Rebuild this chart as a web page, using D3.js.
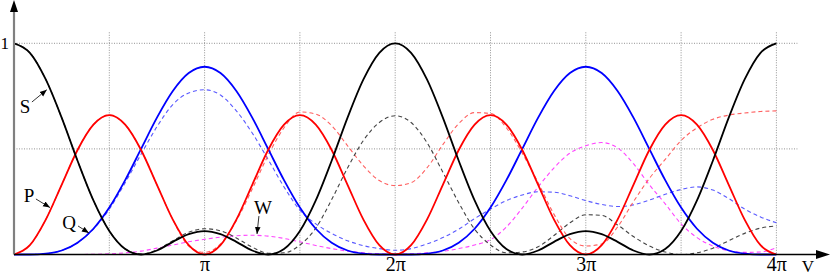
<!DOCTYPE html>
<html>
<head>
<meta charset="utf-8">
<script src="https://cdn.jsdelivr.net/npm/d3@7"></script>
<style>
  html, body { margin: 0; padding: 0; background: white; }
  svg { display: block; }
</style>
</head>
<body>
<script>
// samples every pi/12 from 0 to 4pi
const steps = d3.range(49).map(k => k / 12);   // in units of pi

const sSolid = [1, 0.955, 0.829, 0.648, 0.444, 0.256, 0.111, 0.026, 0, 0.019, 0.06, 0.096,
    0.111, 0.096, 0.06, 0.019, 0, 0.026, 0.111, 0.256, 0.444, 0.648, 0.829, 0.955,
    1, 0.955, 0.829, 0.648, 0.444, 0.256, 0.111, 0.026, 0, 0.019, 0.06, 0.096,
    0.111, 0.096, 0.06, 0.019, 0, 0.026, 0.111, 0.256, 0.444, 0.648, 0.829, 0.955, 1];
const pSolid = [0, 0.044, 0.165, 0.33, 0.495, 0.615, 0.66, 0.615, 0.495, 0.33, 0.165, 0.044,
    0, 0.044, 0.165, 0.33, 0.495, 0.615, 0.66, 0.615, 0.495, 0.33, 0.165, 0.044,
    0, 0.044, 0.165, 0.33, 0.495, 0.615, 0.66, 0.615, 0.495, 0.33, 0.165, 0.044,
    0, 0.044, 0.165, 0.33, 0.495, 0.615, 0.66, 0.615, 0.495, 0.33, 0.165, 0.044, 0];
const qSolid = [0, 0, 0.004, 0.019, 0.056, 0.122, 0.222, 0.352, 0.5, 0.648, 0.774, 0.859,
    0.889, 0.859, 0.774, 0.648, 0.5, 0.352, 0.222, 0.122, 0.056, 0.019, 0.004, 0,
    0, 0, 0.004, 0.019, 0.056, 0.122, 0.222, 0.352, 0.5, 0.648, 0.774, 0.859,
    0.889, 0.859, 0.774, 0.648, 0.5, 0.352, 0.222, 0.122, 0.056, 0.019, 0.004, 0, 0];

const sDash = [1, 0.955, 0.829, 0.648, 0.444, 0.256, 0.112, 0.027, 0.002, 0.022, 0.065, 0.105,
    0.122, 0.112, 0.078, 0.035, 0.006, 0.008, 0.045, 0.125, 0.26, 0.41, 0.54, 0.625,
    0.657, 0.625, 0.53, 0.39, 0.245, 0.12, 0.045, 0.008, 0.012, 0.037, 0.09, 0.15,
    0.188, 0.185, 0.14, 0.085, 0.04, 0.012, 0, 0.008, 0.03, 0.065, 0.1, 0.125, 0.135];
const pDash = [0, 0.044, 0.165, 0.33, 0.495, 0.615, 0.66, 0.615, 0.495, 0.33, 0.165, 0.04,
    0.01, 0.05, 0.16, 0.31, 0.47, 0.6, 0.675, 0.665, 0.61, 0.515, 0.42, 0.35,
    0.326, 0.34, 0.41, 0.52, 0.62, 0.672, 0.668, 0.6, 0.48, 0.34, 0.19, 0.075,
    0.04, 0.05, 0.13, 0.25, 0.36, 0.45, 0.54, 0.6, 0.64, 0.66, 0.67, 0.677, 0.68];
const qDash = [0, 0, 0.004, 0.019, 0.056, 0.12, 0.215, 0.34, 0.475, 0.605, 0.71, 0.765,
    0.78, 0.755, 0.68, 0.575, 0.45, 0.32, 0.21, 0.145, 0.1, 0.065, 0.042, 0.028,
    0.02, 0.028, 0.05, 0.08, 0.12, 0.17, 0.215, 0.255, 0.282, 0.297, 0.295, 0.278,
    0.255, 0.237, 0.227, 0.235, 0.258, 0.285, 0.308, 0.32, 0.305, 0.265, 0.215, 0.178, 0.15];
const wDash = [0, 0, 0, 0, 0, 0.001, 0.003, 0.008, 0.016, 0.03, 0.045, 0.06,
    0.072, 0.082, 0.089, 0.091, 0.087, 0.076, 0.06, 0.043, 0.028, 0.016, 0.008, 0.003,
    0.001, 0.003, 0.008, 0.015, 0.028, 0.045, 0.07, 0.13, 0.22, 0.32, 0.41, 0.48,
    0.515, 0.53, 0.505, 0.43, 0.33, 0.24, 0.145, 0.08, 0.04, 0.018, 0.01, 0.012, 0.032];

const xTicks = [1, 2, 3, 4];
const xTickLabels = ["π", "2π", "3π", "4π"];
const yTicks = [1];
const xGrid = [0.5, 1, 1.5, 2, 2.5, 3, 3.5, 4];
const yGrid = [0.5, 1];

// label, text centre, arrow start, arrow tip  (v in units of pi, value)
const notes = [
    { name: "S", at: [0.058, 0.70], from: [0.094, 0.722], to: [0.172, 0.78] },
    { name: "P", at: [0.079, 0.282], from: [0.115, 0.263], to: [0.189, 0.222] },
    { name: "Q", at: [0.289, 0.154], from: [0.336, 0.135], to: [0.393, 0.102] },
    { name: "W", at: [1.306, 0.222], from: [1.285, 0.182], to: [1.275, 0.097] }
];

const width = 830, height = 276;
const serif = "'Liberation Serif', 'Times New Roman', 'DejaVu Serif', serif";

const svg = d3.select("body")
    .append("svg")
    .attr("width", width)
    .attr("height", height);

const x = d3.scaleLinear().domain([0, 4]).range([14, 776.4]);
const y = d3.scaleLinear().domain([0, 1]).range([254.5, 43.3]);

const defs = svg.append("defs");
defs.append("marker")
    .attr("id", "tip")
    .attr("viewBox", "0 0 10 10")
    .attr("refX", 10)
    .attr("refY", 5)
    .attr("markerWidth", 7)
    .attr("markerHeight", 7)
    .attr("markerUnits", "userSpaceOnUse")
    .attr("orient", "auto")
    .append("path")
    .attr("d", "M0,1 L10,5 L0,9 Z")
    .attr("fill", "black");

// grid
svg.append("g").selectAll("line")
    .data(yGrid)
    .join("line")
    .attr("x1", x(0))
    .attr("x2", x(4) + 21)
    .attr("y1", d => y(d))
    .attr("y2", d => y(d))
    .attr("stroke", "#777")
    .attr("stroke-width", 0.8)
    .attr("stroke-dasharray", "1,1.5");

svg.append("g").selectAll("line")
    .data(xGrid)
    .join("line")
    .attr("x1", d => x(d))
    .attr("x2", d => x(d))
    .attr("y1", y(1) - 11)
    .attr("y2", y(0))
    .attr("stroke", "#777")
    .attr("stroke-width", 0.8)
    .attr("stroke-dasharray", "1,1.5");

const line = d3.line()
    .x(d => x(d[0]))
    .y(d => y(d[1]))
    .curve(d3.curveMonotoneX);

const series = [
    { vals: wDash, color: "#ff44ff", w: 1.1, dash: "4,3" },
    { vals: qDash, color: "#5a5aff", w: 1.1, dash: "4,3" },
    { vals: pDash, color: "#ff6060", w: 1.1, dash: "4,3" },
    { vals: sDash, color: "#444", w: 1.1, dash: "4,3" },
    { vals: qSolid, color: "#0000ff", w: 1.8, dash: null },
    { vals: pSolid, color: "#ff0000", w: 1.8, dash: null },
    { vals: sSolid, color: "#000", w: 1.8, dash: null }
];

svg.append("g").selectAll("path")
    .data(series)
    .join("path")
    .attr("d", s => line(steps.map((v, i) => [v, s.vals[i]])))
    .attr("fill", "none")
    .attr("stroke", s => s.color)
    .attr("stroke-width", s => s.w)
    .attr("stroke-dasharray", s => s.dash);

// axes
svg.append("line")
    .attr("x1", x(0))
    .attr("x2", x(0))
    .attr("y1", y(0))
    .attr("y2", 10)
    .attr("stroke", "#808080")
    .attr("stroke-width", 2.2);
svg.append("path")
    .attr("d", `M${x(0)},0 L${x(0) - 4},12 L${x(0) + 4},12 Z`)
    .attr("fill", "black");

svg.append("line")
    .attr("x1", x(0))
    .attr("x2", 818)
    .attr("y1", y(0))
    .attr("y2", y(0))
    .attr("stroke", "black")
    .attr("stroke-width", 1.6);
svg.append("path")
    .attr("d", `M830,${y(0)} L816,${y(0) - 4.5} L816,${y(0) + 4.5} Z`)
    .attr("fill", "black");

const xAxis = svg.append("g")
    .attr("transform", `translate(0,${y(0)})`)
    .call(d3.axisBottom(x).tickValues(xTicks).tickFormat((d, i) => xTickLabels[i]).tickSize(0).tickPadding(2));
xAxis.select(".domain").remove();
xAxis.selectAll("text")
    .attr("font-family", serif)
    .attr("font-size", 20)
    .attr("fill", "black");

const yAxis = svg.append("g")
    .attr("transform", `translate(${x(0)},0)`)
    .call(d3.axisLeft(y).tickValues(yTicks).tickFormat(d3.format("d")).tickSize(0).tickPadding(5));
yAxis.select(".domain").remove();
yAxis.selectAll("text")
    .attr("font-family", serif)
    .attr("font-size", 17)
    .attr("fill", "black");

svg.append("text")
    .attr("x", 808)
    .attr("y", 272)
    .attr("text-anchor", "middle")
    .attr("font-family", serif)
    .attr("font-size", 17)
    .text("V");

// curve labels with arrows
svg.append("g").selectAll("text")
    .data(notes)
    .join("text")
    .attr("x", d => x(d.at[0]))
    .attr("y", d => y(d.at[1]))
    .attr("dy", "0.35em")
    .attr("text-anchor", "middle")
    .attr("font-family", serif)
    .attr("font-size", 19)
    .text(d => d.name);

svg.append("g").selectAll("line")
    .data(notes)
    .join("line")
    .attr("x1", d => x(d.from[0]))
    .attr("y1", d => y(d.from[1]))
    .attr("x2", d => x(d.to[0]))
    .attr("y2", d => y(d.to[1]))
    .attr("stroke", "black")
    .attr("stroke-width", 0.8)
    .attr("marker-end", "url(#tip)");
</script>
</body>
</html>
